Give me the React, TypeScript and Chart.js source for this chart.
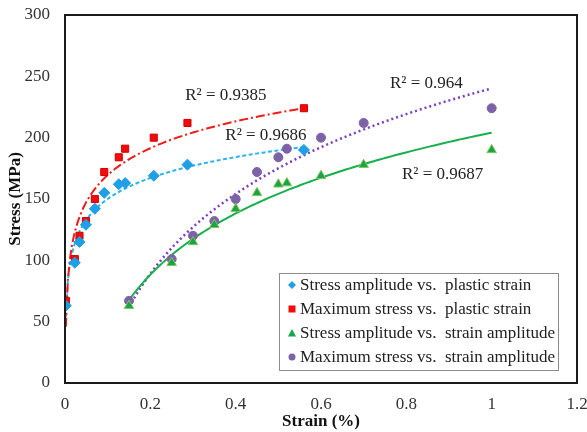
import React, { useEffect, useRef } from "react";
import { Chart, registerables } from "chart.js";

Chart.register(...registerables);

// Data
const PLASTIC_STRAIN = [0.002, 0.023, 0.034, 0.049, 0.07, 0.092, 0.126, 0.141, 0.208, 0.287, 0.56];
const STRAIN_AMPLITUDE = [0.15, 0.25, 0.3, 0.35, 0.4, 0.45, 0.5, 0.52, 0.6, 0.7, 1.0];
const STRESS_AMPLITUDE = [63, 98, 115, 129, 142, 155, 162, 163, 169, 178, 190];
const MAXIMUM_STRESS = [67, 101, 120, 132, 150, 172, 184, 191, 200, 212, 224];

const SERIES_NAMES = [
  "Stress amplitude vs.  plastic strain",
  "Maximum stress vs.  plastic strain",
  "Stress amplitude vs.  strain amplitude",
  "Maximum stress vs.  strain amplitude",
];
const SERIES_COLORS = ["#1E9FE6", "#F50A0A", "#12A84A", "#7E62A8"];
const TREND_COLORS = ["#2AB4EE", "#F21A1A", "#17B04C", "#7B3FC0"];

const R2_LABELS = ["R² = 0.9385", "R² = 0.9686", "R² = 0.964", "R² = 0.9687"];
const R2_X = [0.377, 0.471, 0.847, 0.885];
const R2_Y = [234, 202, 244.5, 170];

const X_TICKS = ["0", "0.2", "0.4", "0.6", "0.8", "1", "1.2"];

const FONT = "'Liberation Serif', 'Times New Roman', serif";
const FS = 17;

// Logarithmic least-squares trendline (y = a + b ln x), as in the spreadsheet
function logTrend(xs: number[], ys: number[]) {
  const lx = xs.map((v) => Math.log(v));
  const n = xs.length;
  const mx = lx.reduce((s, v) => s + v, 0) / n;
  const my = ys.reduce((s, v) => s + v, 0) / n;
  let sxy = 0;
  let sxx = 0;
  for (let i = 0; i < n; i++) {
    sxy += (lx[i] - mx) * (ys[i] - my);
    sxx += (lx[i] - mx) * (lx[i] - mx);
  }
  const b = sxy / sxx;
  const a = my - b * mx;
  const x0 = Math.min(...xs);
  const x1 = Math.max(...xs);
  const pts: { x: number; y: number }[] = [];
  const steps = 120;
  for (let i = 0; i <= steps; i++) {
    const x = x0 + ((x1 - x0) * i) / steps;
    pts.push({ x, y: a + b * Math.log(x) });
  }
  return pts;
}

const pairs = (xs: number[], ys: number[]) => xs.map((x, i) => ({ x, y: ys[i] }));

const frameAndLabels = {
  id: "frameAndLabels",
  afterDatasetsDraw(chart: any) {
    const { ctx, chartArea, scales } = chart;
    ctx.save();
    // plot frame
    ctx.strokeStyle = "#1a1a1a";
    ctx.lineWidth = 2;
    ctx.strokeRect(chartArea.left, chartArea.top, chartArea.right - chartArea.left, chartArea.bottom - chartArea.top);

    // R² annotations
    ctx.fillStyle = "#222";
    ctx.font = `${FS}px ${FONT}`;
    ctx.textAlign = "center";
    ctx.textBaseline = "middle";
    R2_LABELS.forEach((t, i) => {
      ctx.fillText(t, scales.x.getPixelForValue(R2_X[i]), scales.y.getPixelForValue(R2_Y[i]));
    });

    // legend box
    const w = 279;
    const h = 97;
    const right = chartArea.right - 19;
    const bottom = chartArea.bottom - 13;
    const left = right - w;
    const top = bottom - h;
    ctx.fillStyle = "#ffffff";
    ctx.fillRect(left, top, w, h);
    ctx.strokeStyle = "#8c8c8c";
    ctx.lineWidth = 1;
    ctx.strokeRect(left + 0.5, top + 0.5, w, h);
    const styles = ["rectRot", "rect", "triangle", "circle"];
    SERIES_NAMES.forEach((name, i) => {
      const cy = top + 12 + i * 24;
      const cx = left + 13;
      ctx.fillStyle = SERIES_COLORS[i];
      ctx.beginPath();
      const s = styles[i];
      if (s === "rectRot") {
        ctx.moveTo(cx, cy - 4);
        ctx.lineTo(cx + 4, cy);
        ctx.lineTo(cx, cy + 4);
        ctx.lineTo(cx - 4, cy);
        ctx.closePath();
      } else if (s === "rect") {
        ctx.rect(cx - 3.5, cy - 3.5, 7, 7);
      } else if (s === "triangle") {
        ctx.moveTo(cx, cy - 4);
        ctx.lineTo(cx + 4, cy + 3.5);
        ctx.lineTo(cx - 4, cy + 3.5);
        ctx.closePath();
      } else {
        ctx.arc(cx, cy, 3.5, 0, Math.PI * 2);
      }
      ctx.fill();
      ctx.fillStyle = "#222";
      ctx.font = `${FS}px ${FONT}`;
      ctx.textAlign = "left";
      ctx.textBaseline = "middle";
      ctx.fillText(name, left + 21, cy + 1);
    });
    ctx.restore();
  },
};

export default function App() {
  const ref = useRef<HTMLCanvasElement | null>(null);

  useEffect(() => {
    if (!ref.current) return;
    const scatterSets = [
      { xs: PLASTIC_STRAIN, ys: STRESS_AMPLITUDE, style: "rectRot", r: 5.5, border: SERIES_COLORS[0] },
      { xs: PLASTIC_STRAIN, ys: MAXIMUM_STRESS, style: "rect", r: 5, border: "#d00000" },
      { xs: STRAIN_AMPLITUDE, ys: STRESS_AMPLITUDE, style: "triangle", r: 5.5, border: "#8fbf5a" },
      { xs: STRAIN_AMPLITUDE, ys: MAXIMUM_STRESS, style: "circle", r: 4.5, border: SERIES_COLORS[3] },
    ];
    const dashes = [[4, 2.5], [9, 3, 2, 3], [], [2, 3]];
    const trendOrder = [1, 0, 2, 3];
    const datasets: any[] = [];
    trendOrder.forEach((i) => {
      const s = scatterSets[i];
      datasets.push({
        label: "trend " + i,
        data: logTrend(s.xs, s.ys),
        showLine: true,
        pointRadius: 0,
        borderColor: TREND_COLORS[i],
        borderWidth: i === 3 ? 2.5 : 2,
        borderDash: dashes[i],
        fill: false,
        order: 2,
      });
    });
    scatterSets.forEach((s, i) => {
      datasets.push({
        label: SERIES_NAMES[i],
        data: pairs(s.xs, s.ys),
        showLine: false,
        pointStyle: s.style,
        pointRadius: s.r,
        backgroundColor: SERIES_COLORS[i],
        borderColor: s.border,
        borderWidth: 1,
        order: 1,
      });
    });

    const chart = new Chart(ref.current, {
      type: "scatter",
      data: { datasets },
      options: {
        responsive: false,
        animation: false,
        layout: { padding: { top: 15, right: 10, left: 0, bottom: 0 } },
        plugins: { legend: { display: false }, tooltip: { enabled: false } },
        scales: {
          x: {
            type: "linear",
            min: 0,
            max: 1.2,
            afterFit: (scale: any) => {
              scale.height = 49;
              scale.paddingLeft = 0;
              scale.paddingRight = 0;
            },
            border: { display: false },
            grid: { display: false, drawOnChartArea: false, drawTicks: true, tickLength: 5, color: "#9a9a9a" },
            ticks: {
              stepSize: 0.2,
              padding: 6,
              color: "#333",
              font: { family: FONT, size: FS },
              callback: (v: any) => X_TICKS[Math.round(Number(v) / 0.2)] ?? "",
            },
            title: {
              display: true,
              text: "Strain (%)",
              color: "#111",
              font: { family: FONT, size: FS, weight: "bold" },
              padding: { top: 0, bottom: 0 },
            },
          },
          y: {
            type: "linear",
            min: 0,
            max: 300,
            afterFit: (scale: any) => {
              scale.width = 65;
              scale.paddingTop = 0;
              scale.paddingBottom = 0;
            },
            border: { display: false },
            grid: { display: false, drawOnChartArea: false, drawTicks: true, tickLength: 7, color: "#9a9a9a" },
            ticks: {
              stepSize: 50,
              padding: 8,
              color: "#333",
              font: { family: FONT, size: FS },
            },
            title: {
              display: true,
              text: "Stress (MPa)",
              color: "#111",
              font: { family: FONT, size: FS, weight: "bold" },
              padding: { top: 5, bottom: 0 },
            },
          },
        },
      },
      plugins: [frameAndLabels],
    } as any);
    return () => chart.destroy();
  }, []);

  return (
    <div style={{ position: "absolute", left: 0, top: 0, width: 587, height: 432, background: "#fff" }}>
      <canvas ref={ref} width={587} height={432} style={{ display: "block" }} />
    </div>
  );
}
